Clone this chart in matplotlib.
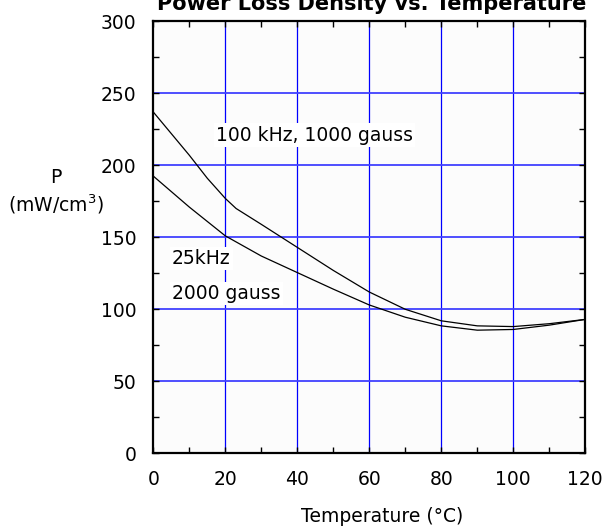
import numpy as np
import matplotlib
matplotlib.use("Agg")
import matplotlib.pyplot as plt
from matplotlib.ticker import MultipleLocator


# ============================================================
# DATOS
# ============================================================

temp_100k = [0, 5, 10, 15, 20, 23, 30, 40, 50, 60, 70, 80, 90, 100, 110, 120]
loss_100k = [237, 222, 207, 191, 177, 170, 159, 143, 127, 112, 100, 92, 88.5, 88, 90, 93]

temp_25k = [0, 10, 20, 30, 40, 50, 60, 70, 80, 90, 100, 110, 120]
loss_25k = [192.5, 171, 151, 137, 125.5, 114, 103, 94.5, 88.5, 85.5, 86, 89, 93]

x_ticks = [0, 20, 40, 60, 80, 100, 120]
y_ticks = [0, 50, 100, 150, 200, 250, 300]

label_100k = "100 kHz, 1000 gauss"
label_25k_a = "25kHz"
label_25k_b = "2000 gauss"


# ============================================================
# FIGURA
# ============================================================

plt.rcParams["font.family"] = ["DejaVu Sans"]
plt.rcParams["mathtext.default"] = "regular"

W, H = 606, 527
fig = plt.figure(figsize=(W / 100, H / 100), dpi=100)
fig.patch.set_facecolor("white")

left, right, top, bottom = 153.3, 585.3, 21.3, 453.3
ax = fig.add_axes([left / W, 1 - bottom / H, (right - left) / W, (bottom - top) / H])
ax.set_facecolor("#fcfcfc")

ax.plot(temp_100k, loss_100k, color="black", linewidth=0.9, zorder=3)
ax.plot(temp_25k, loss_25k, color="black", linewidth=0.9, zorder=3)

ax.set_xlim(0, 120)
ax.set_ylim(0, 300)
ax.set_xticks(x_ticks)
ax.set_yticks(y_ticks)
ax.xaxis.set_minor_locator(MultipleLocator(10))
ax.yaxis.set_minor_locator(MultipleLocator(25))

# Rejilla azul: vertical fina, horizontal algo más clara
for xv in x_ticks[1:-1]:
    ax.axvline(xv, color="#0000ff", linewidth=0.9, zorder=1)
for yv in y_ticks[1:-1]:
    ax.axhline(yv, color="#4040ff", linewidth=1.3, zorder=1)

ax.tick_params(which="both", direction="in", top=True, right=True,
               length=4, width=1, labelsize=13.5, color="black")
ax.tick_params(axis="y", which="major", pad=12)
ax.tick_params(axis="x", which="major", pad=12)

for spine in ax.spines.values():
    spine.set_linewidth(1.6)
    spine.set_zorder(4)

box = dict(facecolor="white", edgecolor="none", pad=1.5)
ax.text(17.3, 221, label_100k, fontsize=13.5, va="center", ha="left", bbox=box, zorder=2)
ax.text(5.2, 135, label_25k_a, fontsize=13.5, va="center", ha="left", bbox=box, zorder=2)
ax.text(5.2, 111, label_25k_b, fontsize=13.5, va="center", ha="left", bbox=box, zorder=2)

fig.text(372 / W, 1 - 10 / H, "Power Loss Density vs. Temperature",
         fontsize=15, fontweight="bold", ha="center", va="baseline")
fig.text(382 / W, 1 - 516 / H, "Temperature (°C)", fontsize=13.5,
         ha="center", va="center")
fig.text(56 / W, 1 - 192 / H, "P\n(mW/cm$^3$)", fontsize=13.5,
         ha="center", va="center", multialignment="center", linespacing=1.3)

fig.savefig("out.png", dpi=100)
